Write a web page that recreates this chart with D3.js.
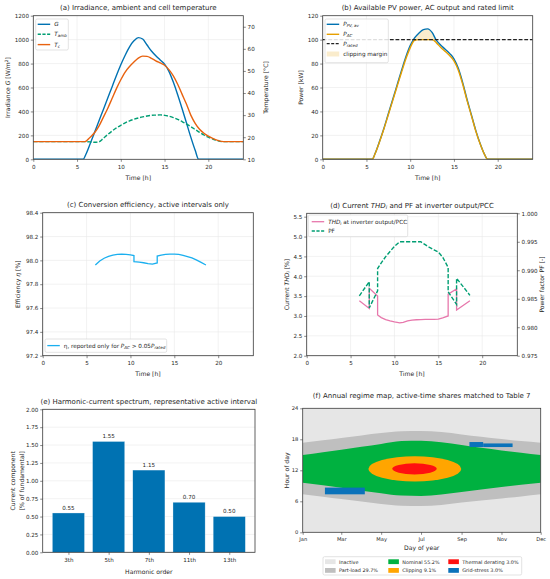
<!DOCTYPE html>
<html><head><meta charset="utf-8">
<script src="https://cdn.jsdelivr.net/npm/d3@7/dist/d3.min.js"></script>
<style>
body{margin:0;background:#fff}
svg text{font-family:"DejaVu Sans",sans-serif;fill:#262626}
</style></head>
<body><svg id="fig" width="550" height="579"></svg>
<script>
// ================= DATA =================
// (a) irradiance and temperatures
const hoursG = [0,5.7,6,6.5,7,7.5,8,8.5,9,9.5,10,10.5,11,11.5,12,12.5,13,13.5,14,14.5,15,15.5,16,16.5,17,17.5,18,18.5,18.9,24];
const irradianceG = [0,0,40,130,225,320,415,510,605,700,790,870,940,990,1017,1005,955,905,865,830,795,735,645,540,425,305,185,75,0,0];
const hoursT = [0,5.5,5.9,6.5,7,7.5,8,8.5,9,9.5,10,10.5,11,11.5,12,12.5,13,13.5,14,14.5,15,15.5,16,16.5,17,17.5,18,18.5,19,19.5,20,20.5,21,21.5,22,24];
const ambientT = [18,18,18,17.9,17.7,17.9,19.5,21.2,22.8,24.2,25.4,26.5,27.4,28.1,28.7,29.2,29.6,29.9,30,30.1,29.9,29.5,28.9,28.1,27.1,26,24.8,23.5,22.2,21,20,19.2,18.5,18,18,18];
const cellT = [18,18,18,20,22,25,29,33,37.5,42,46,49.5,52,54,55.8,56.7,56.6,55.7,54.6,53.6,52.6,50.6,47.8,44,39.5,35,30,26.3,23.6,21.8,20.5,19.5,18.7,18.1,18,18];
// (b) power
const hoursP = [0,5.65,6,6.5,7,7.5,8,8.5,9,9.5,10,10.5,11,11.5,12,12.5,13,13.5,14,14.5,15,15.5,16,16.5,17,17.5,18,18.5,18.85,24];
const pvAvailable = [0,0,5,15,26,38,50,62,74,85.5,95,101.5,105.5,108.3,109,106,99.3,95.3,92,88.5,84,76,64,50,37,24,13,4,0,0];
const acOutput = [0,0,4.9,14.7,25.5,37.2,49,60.8,72.5,83.8,93.1,99.5,100,100,100,100,97.3,93.4,90.2,86.7,82.3,74.5,62.7,49,36.3,23.5,12.7,3.9,0,0];
const ratedPower = 100;
// (c) efficiency
const hoursEta = [6.0,6.5,7,7.5,8,8.5,9,9.5,10,10.4,10.4,11,11.5,12,12.5,13.05,13.05,13.5,14,14.5,15,15.5,16,16.5,17,17.5,18,18.6];
const efficiency = [97.961,97.995,98.018,98.033,98.044,98.050,98.052,98.050,98.046,98.040,97.990,97.985,97.980,97.972,97.968,97.978,98.036,98.044,98.050,98.053,98.053,98.050,98.042,98.032,98.020,98.004,97.985,97.961];
// (d) THD and PF
const hoursQ = [6.0,7.13,7.13,8.08,8.08,8.5,9,9.5,10,10.6,11,11.5,12,12.5,13,13.5,14,14.5,15,15.5,16.12,16.12,17.08,17.08,18.6];
const thdCurrent = [3.385,3.19,3.70,3.50,3.025,2.96,2.91,2.875,2.85,2.825,2.84,2.875,2.895,2.905,2.91,2.915,2.915,2.915,2.92,2.95,3.0,3.55,3.68,3.15,3.385];
const powerFactor = [0.9855,0.9880,0.9834,0.9864,0.9903,0.9913,0.9924,0.9933,0.9942,0.9950,0.9950,0.9950,0.9950,0.9950,0.9950,0.9945,0.9940,0.9936,0.9932,0.9923,0.9905,0.9862,0.9840,0.9886,0.9856];
// (e) harmonic spectrum
const harmonicOrders = ["3th","5th","7th","11th","13th"];
const harmonicPct = [0.55,1.55,1.15,0.70,0.50];
// (f) regime map
const regimeDays    = [1,32,60,91,121,152,182,213,244,274,305,335,365];
const partLoadStart = [7.35,6.90,6.45,5.95,5.50,5.15,5.09,5.30,5.75,6.15,6.55,6.95,7.35];
const nominalStart  = [9.60,9.10,8.60,8.05,7.55,7.10,7.03,7.30,7.80,8.30,8.75,9.20,9.60];
const nominalEnd    = [14.96,15.50,16.00,16.55,17.10,17.65,17.73,17.45,16.90,16.35,15.85,15.40,14.96];
const partLoadEnd   = [17.35,17.80,18.25,18.75,19.20,19.55,19.60,19.40,18.95,18.50,18.05,17.65,17.35];
const clippingCenter = [172.5, 12.27];   // day, hour
const clippingRadius = [71, 2.45];       // days, hours
const thermalCenter = [172, 12.28];
const thermalRadius = [34, 1.07];
const gridStressDayFrom  = [35, 256, 277];
const gridStressDayTo    = [96, 277, 322];
const gridStressHourFrom = [7.35, 16.5, 16.5];
const gridStressHourTo   = [8.65, 17.47, 17.2];
const regimeNames  = ["Inactive","Part-load 29.7%","Nominal 55.2%","Clipping 9.1%","Thermal derating 3.0%","Grid-stress 3.0%"];
const regimeColors = ["#e6e6e6","#bfbfbf","#00b140","#ffa500","#ff1010","#0a72ba"];
// ticks
const timeTicks = [0,5,10,15,20];
const monthTickDays = [1,60,121,182,244,305,365];
const monthTickLabels = ["Jan","Mar","May","Jul","Sep","Nov","Dec"];
const hourTicks = [0,6,12,18,24];

// ================= DRAW =================
const svg = d3.select("#fig");
const C = {blue:"#0072B2", orange:"#E69F00", green:"#009E73", verm:"#E8620F", pink:"#E778AC", sky:"#1AAFEF", grid:"#e9e9e9", spine:"#3a3a3a"};
const FS = {title:7, tick:5.6, label:6.1, legend:5.7};

function zip(a,b){return a.map((v,i)=>[v,b[i]]);}
function rich(sel, parts, size){
  parts.forEach(p=>{
    const ts = sel.append("tspan").text(p.t);
    if(p.i) ts.attr("font-style","italic");
    if(p.sub) ts.attr("baseline-shift",(-size*0.2).toFixed(2)).attr("font-size", size*0.72);
    if(p.sup) ts.attr("baseline-shift",(size*0.38).toFixed(2)).attr("font-size", size*0.72);
  });
}
function text(x,y,parts,size,anchor="middle",rot=false){
  const t = svg.append("text").attr("x",x).attr("y",y).attr("font-size",size).attr("text-anchor",anchor);
  if(rot) t.attr("transform",`rotate(-90,${x},${y})`).attr("dy","0.35em");
  if(typeof parts==="string") t.text(parts); else rich(t,parts,size);
  return t;
}
function styleAxis(sel,fs){
  sel.select(".domain").remove();
  sel.selectAll(".tick line").attr("stroke",C.spine).attr("stroke-width",0.6);
  sel.selectAll(".tick text").attr("font-size",fs).attr("fill","#262626").attr("font-family","DejaVu Sans");
}
function axisB(P,x,vals,fmt,fs=FS.tick){
  svg.append("g").attr("transform",`translate(0,${P.y1})`)
    .call(d3.axisBottom(x).tickValues(vals).tickFormat(fmt).tickSize(2.5).tickPadding(3)).call(s=>styleAxis(s,fs));
}
function axisL(P,y,vals,fmt,fs=FS.tick){
  svg.append("g").attr("transform",`translate(${P.x0},0)`)
    .call(d3.axisLeft(y).tickValues(vals).tickFormat(fmt).tickSize(2.5).tickPadding(1.8)).call(s=>styleAxis(s,fs));
}
function axisR(P,y,vals,fmt,fs=FS.tick){
  svg.append("g").attr("transform",`translate(${P.x1},0)`)
    .call(d3.axisRight(y).tickValues(vals).tickFormat(fmt).tickSize(2.5).tickPadding(1.8)).call(s=>styleAxis(s,fs));
}
function gridLines(P,x,xv,y,yv){
  const g = svg.append("g");
  if(xv) xv.forEach(v=>g.append("line").attr("x1",x(v)).attr("x2",x(v)).attr("y1",P.y0).attr("y2",P.y1).attr("stroke",C.grid).attr("stroke-width",0.6));
  if(yv) yv.forEach(v=>g.append("line").attr("y1",y(v)).attr("y2",y(v)).attr("x1",P.x0).attr("x2",P.x1).attr("stroke",C.grid).attr("stroke-width",0.6));
}
function frame(P){
  svg.append("rect").attr("x",P.x0).attr("y",P.y0).attr("width",P.x1-P.x0).attr("height",P.y1-P.y0)
    .attr("fill","none").attr("stroke",C.spine).attr("stroke-width",0.8);
}
function clip(P,id){
  svg.append("clipPath").attr("id",id).append("rect").attr("x",P.x0).attr("y",P.y0).attr("width",P.x1-P.x0).attr("height",P.y1-P.y0);
  return svg.append("g").attr("clip-path",`url(#${id})`);
}
function legendBox(x,y,w,h){
  svg.append("rect").attr("x",x).attr("y",y).attr("width",w).attr("height",h).attr("rx",1.5)
    .attr("fill","#fff").attr("fill-opacity",0.85).attr("stroke","#d0d0d0").attr("stroke-width",0.6);
}
function legendLine(x,y,color,dash,lw,parts){
  svg.append("line").attr("x1",x).attr("x2",x+12.5).attr("y1",y).attr("y2",y).attr("stroke",color).attr("stroke-width",lw).attr("stroke-dasharray",dash||null);
  text(x+16.5,y+2,parts,FS.legend,"start");
}
const fmt0 = d=>d3.format("d")(d);

// ---------- (a) ----------
{
  const P={x0:33.3,x1:243.3,y0:15.7,y1:159.3};
  const x=d3.scaleLinear().domain([0,24]).range([P.x0,P.x1]);
  const yL=d3.scaleLinear().domain([0,1200]).range([P.y1,P.y0]);
  const yR=d3.scaleLinear().domain([10,75]).range([P.y1,P.y0]);
  gridLines(P,x,timeTicks,yL,[200,400,600,800,1000]);
  const g=clip(P,"ca");
  const lg=d3.line().curve(d3.curveMonotoneX);
  g.append("path").attr("d",lg.x(d=>x(d[0])).y(d=>yL(d[1]))(zip(hoursG,irradianceG))).attr("fill","none").attr("stroke",C.blue).attr("stroke-width",1.4);
  const lt=d3.line().curve(d3.curveMonotoneX).x(d=>x(d[0])).y(d=>yR(d[1]));
  g.append("path").attr("d",lt(zip(hoursT,ambientT))).attr("fill","none").attr("stroke",C.green).attr("stroke-width",1.4).attr("stroke-dasharray","4.2,1.8");
  g.append("path").attr("d",lt(zip(hoursT,cellT))).attr("fill","none").attr("stroke",C.verm).attr("stroke-width",1.4);
  frame(P);
  axisB(P,x,timeTicks,fmt0);
  axisL(P,yL,[0,200,400,600,800,1000,1200],fmt0);
  axisR(P,yR,[10,20,30,40,50,60,70],fmt0);
  text((P.x0+P.x1)/2,9.8,"(a) Irradiance, ambient and cell temperature",FS.title);
  text((P.x0+P.x1)/2,180,"Time [h]",FS.label);
  text(8.3,(P.y0+P.y1)/2,[{t:"Irradiance "},{t:"G",i:1},{t:" [W/m"},{t:"2",sup:1},{t:"]"}],FS.label,"middle",true);
  text(265.7,(P.y0+P.y1)/2,"Temperature [°C]",FS.label,"middle",true);
  legendBox(35.7,19,32.6,31);
  legendLine(37.7,24.3,C.blue,null,1.4,[{t:"G",i:1}]);
  legendLine(37.7,34.3,C.green,"3.2,1.5",1.4,[{t:"T",i:1},{t:"amb",i:1,sub:1}]);
  legendLine(37.7,44.6,C.verm,null,1.4,[{t:"T",i:1},{t:"c",i:1,sub:1}]);
}

// ---------- (b) ----------
{
  const P={x0:322.7,x1:532.7,y0:15.7,y1:159.3};
  const x=d3.scaleLinear().domain([0,24]).range([P.x0,P.x1]);
  const y=d3.scaleLinear().domain([0,120]).range([P.y1,P.y0]);
  gridLines(P,x,timeTicks,y,[20,40,60,80,100]);
  const g=clip(P,"cb");
  const area=d3.area().curve(d3.curveMonotoneX).x(d=>x(d[0])).y0(y(ratedPower)).y1(d=>y(Math.max(d[1],ratedPower)));
  g.append("path").attr("d",area(zip(hoursP,pvAvailable))).attr("fill",C.orange).attr("fill-opacity",0.2);
  const l=d3.line().curve(d3.curveMonotoneX).x(d=>x(d[0])).y(d=>y(d[1]));
  g.append("path").attr("d",l(zip(hoursP,pvAvailable))).attr("fill","none").attr("stroke",C.blue).attr("stroke-width",1.4);
  g.append("path").attr("d",l(zip(hoursP,acOutput))).attr("fill","none").attr("stroke",C.orange).attr("stroke-width",1.4);
  g.append("line").attr("x1",P.x0).attr("x2",P.x1).attr("y1",y(ratedPower)).attr("y2",y(ratedPower)).attr("stroke","#222").attr("stroke-width",1.1).attr("stroke-dasharray","3.8,1.8");
  frame(P);
  axisB(P,x,timeTicks,fmt0);
  axisL(P,y,[0,20,40,60,80,100,120],fmt0);
  text((P.x0+P.x1)/2,9.8,"(b) Available PV power, AC output and rated limit",FS.title);
  text((P.x0+P.x1)/2,180,"Time [h]",FS.label);
  text(300.7,(P.y0+P.y1)/2,"Power [kW]",FS.label,"middle",true);
  legendBox(325,19,63.3,43.7);
  legendLine(326.7,24.3,C.blue,null,1.4,[{t:"P",i:1},{t:"PV, av",i:1,sub:1}]);
  legendLine(326.7,34.3,C.orange,null,1.4,[{t:"P",i:1},{t:"AC",i:1,sub:1}]);
  legendLine(326.7,43.6,"#222","3,1.5",1.1,[{t:"P",i:1},{t:"rated",i:1,sub:1}]);
  svg.append("rect").attr("x",326.7).attr("y",51.5).attr("width",12.5).attr("height",5).attr("fill",C.orange).attr("fill-opacity",0.2);
  text(343.2,56,"clipping margin",FS.legend,"start");
}

// ---------- (c) ----------
{
  const P={x0:42.7,x1:253.3,y0:212.7,y1:355.7};
  const x=d3.scaleLinear().domain([0,24]).range([P.x0,P.x1]);
  const y=d3.scaleLinear().domain([97.2,98.4]).range([P.y1,P.y0]);
  const yt=[97.2,97.4,97.6,97.8,98.0,98.2,98.4];
  gridLines(P,x,timeTicks,y,yt);
  const g=clip(P,"cc");
  const l=d3.line().x(d=>x(d[0])).y(d=>y(d[1]));
  g.append("path").attr("d",l(zip(hoursEta,efficiency))).attr("fill","none").attr("stroke",C.sky).attr("stroke-width",1.3);
  frame(P);
  axisB(P,x,timeTicks,fmt0);
  axisL(P,y,yt,d3.format(".1f"));
  text((P.x0+P.x1)/2,207.3,"(c) Conversion efficiency, active intervals only",FS.title);
  text((P.x0+P.x1)/2,375.5,"Time [h]",FS.label);
  text(18.3,(P.y0+P.y1)/2,[{t:"Efficiency "},{t:"η",i:1},{t:" [%]"}],FS.label,"middle",true);
  legendBox(45,339,121.7,13.3);
  legendLine(47.3,345.6,C.sky,null,1.3,[{t:"η, reported only for "},{t:"P",i:1},{t:"AC",i:1,sub:1},{t:" > 0.05"},{t:"P",i:1},{t:"rated",i:1,sub:1}]);
}

// ---------- (d) ----------
{
  const P={x0:306.7,x1:517.3,y0:213.3,y1:355.7};
  const x=d3.scaleLinear().domain([0,24]).range([P.x0,P.x1]);
  const yL=d3.scaleLinear().domain([2.0,5.585]).range([P.y1,P.y0]);
  const yR=d3.scaleLinear().domain([0.975,1.0]).range([P.y1,P.y0]);
  const ylt=[2.0,2.5,3.0,3.5,4.0,4.5,5.0,5.5];
  gridLines(P,x,timeTicks,yL,ylt);
  const g=clip(P,"cd");
  g.append("path").attr("d",d3.line().x(d=>x(d[0])).y(d=>yL(d[1]))(zip(hoursQ,thdCurrent))).attr("fill","none").attr("stroke",C.pink).attr("stroke-width",1.3);
  g.append("path").attr("d",d3.line().x(d=>x(d[0])).y(d=>yR(d[1]))(zip(hoursQ,powerFactor))).attr("fill","none").attr("stroke",C.green).attr("stroke-width",1.4).attr("stroke-dasharray","4.2,1.8");
  frame(P);
  axisB(P,x,timeTicks,fmt0);
  axisL(P,yL,ylt,d3.format(".1f"));
  axisR(P,yR,[0.975,0.980,0.985,0.990,0.995,1.000],d3.format(".3f"));
  text((P.x0+P.x1)/2,207.5,[{t:"(d) Current "},{t:"THD",i:1},{t:"i",i:1,sub:1},{t:" and PF at inverter output/PCC"}],FS.title);
  text((P.x0+P.x1)/2,375.5,"Time [h]",FS.label);
  text(286.7,(P.y0+P.y1)/2,[{t:"Current "},{t:"THD",i:1},{t:"i",i:1,sub:1},{t:" [%]"}],FS.label,"middle",true);
  text(541.7,(P.y0+P.y1)/2,"Power factor PF [-]",FS.label,"middle",true);
  legendBox(308.3,215,99.4,21.7);
  legendLine(311.7,221.7,C.pink,null,1.3,[{t:"THD",i:1},{t:"i",i:1,sub:1},{t:" at inverter output/PCC"}]);
  legendLine(311.7,231,C.green,"3.2,1.5",1.4,"PF");
}

// ---------- (e) ----------
{
  const P={x0:42.7,x1:255,y0:409.3,y1:552.3};
  const x=d3.scaleLinear().domain([-0.64,4.64]).range([P.x0,P.x1]);
  const y=d3.scaleLinear().domain([0,2.0]).range([P.y1,P.y0]);
  const yt=[0,0.25,0.5,0.75,1.0,1.25,1.5,1.75,2.0];
  gridLines(P,null,null,y,yt);
  const idx=harmonicOrders.map((_,i)=>i);
  svg.append("g").selectAll("rect").data(harmonicPct).join("rect")
    .attr("x",(d,i)=>x(i-0.4)).attr("width",(d,i)=>x(i+0.4)-x(i-0.4))
    .attr("y",d=>y(d)).attr("height",d=>y(0)-y(d))
    .attr("fill",C.blue).attr("stroke","#ffffff").attr("stroke-opacity",0.6).attr("stroke-width",0.5);
  svg.append("g").selectAll("text").data(harmonicPct).join("text")
    .attr("x",(d,i)=>x(i)).attr("y",d=>y(d)-3.2).attr("text-anchor","middle").attr("font-size",FS.tick)
    .text(d=>d3.format(".2f")(d));
  frame(P);
  svg.append("g").attr("transform",`translate(0,${P.y1})`)
    .call(d3.axisBottom(x).tickValues(idx).tickFormat(i=>harmonicOrders[i]).tickSize(2.5).tickPadding(3)).call(s=>styleAxis(s,FS.tick));
  axisL(P,y,yt,d3.format(".2f"));
  text((P.x0+P.x1)/2,404,"(e) Harmonic-current spectrum, representative active interval",FS.title);
  text((P.x0+P.x1)/2,574.3,"Harmonic order",FS.label);
  text(13.3,(P.y0+P.y1)/2,"Current component",FS.label,"middle",true);
  text(21.6,(P.y0+P.y1)/2,"[% of fundamental]",FS.label,"middle",true);
}

// ---------- (f) ----------
{
  const P={x0:302.7,x1:540.7,y0:408.3,y1:532.3};
  const x=d3.scaleLinear().domain([1,365]).range([P.x0,P.x1]);
  const y=d3.scaleLinear().domain([0,24]).range([P.y1,P.y0]);
  const g=clip(P,"cf");
  g.append("rect").attr("x",P.x0).attr("y",P.y0).attr("width",P.x1-P.x0).attr("height",P.y1-P.y0).attr("fill",regimeColors[0]);
  const band=(lo,hi)=>d3.area().curve(d3.curveMonotoneX).x(d=>x(d[0])).y0(d=>y(d[1])).y1(d=>y(d[2]))(regimeDays.map((dd,i)=>[dd,lo[i],hi[i]]));
  g.append("path").attr("d",band(partLoadStart,partLoadEnd)).attr("fill",regimeColors[1]);
  g.append("path").attr("d",band(nominalStart,nominalEnd)).attr("fill",regimeColors[2]);
  const ell=(c,r,col)=>g.append("ellipse").attr("cx",x(c[0])).attr("cy",y(c[1]))
      .attr("rx",x(c[0]+r[0])-x(c[0])).attr("ry",y(c[1])-y(c[1]+r[1])).attr("fill",col);
  ell(clippingCenter,clippingRadius,regimeColors[3]);
  ell(thermalCenter,thermalRadius,regimeColors[4]);
  gridStressDayFrom.forEach((d0,i)=>{
    g.append("rect").attr("x",x(d0)).attr("width",x(gridStressDayTo[i])-x(d0))
      .attr("y",y(gridStressHourTo[i])).attr("height",y(gridStressHourFrom[i])-y(gridStressHourTo[i])).attr("fill",regimeColors[5]);
  });
  frame(P);
  svg.append("g").attr("transform",`translate(0,${P.y1})`)
    .call(d3.axisBottom(x).tickValues(monthTickDays).tickFormat((d,i)=>monthTickLabels[i]).tickSize(2.5).tickPadding(3)).call(s=>styleAxis(s,5.2));
  axisL(P,y,hourTicks,fmt0,5.2);
  text((P.x0+P.x1)/2,397.5,"(f) Annual regime map, active-time shares matched to Table 7",FS.title);
  text((P.x0+P.x1)/2,550,"Day of year",FS.label);
  text(286.7,(P.y0+P.y1)/2,"Hour of day",FS.label,"middle",true);
  // legend
  legendBox(323,556.7,198.7,18.3);
  const colX=[325,388.3,448.3];
  const rowY=[561.7,570.4];
  regimeNames.forEach((nm,i)=>{
    const c=Math.floor(i/2), r=i%2;
    svg.append("rect").attr("x",colX[c]).attr("y",rowY[r]-2.4).attr("width",10.6).attr("height",4.8).attr("fill",regimeColors[i]);
    text(colX[c]+14,rowY[r]+1.8,nm,4.9,"start");
  });
}
</script>
</body></html>
